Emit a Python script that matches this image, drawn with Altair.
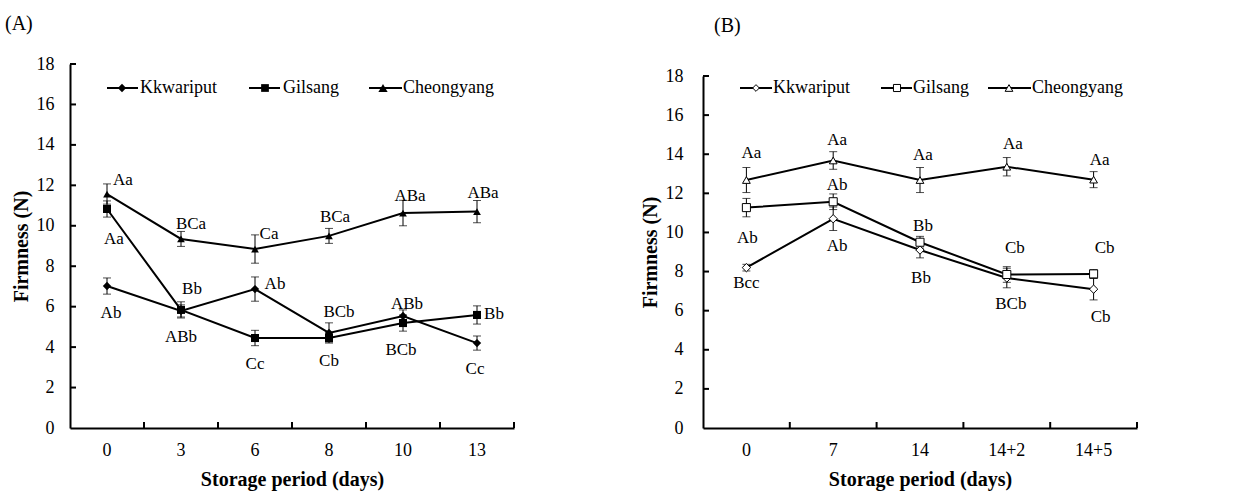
import altair as alt
import pandas as pd

FONT = "Liberation Serif"
series = ["Kkwariput", "Gilsang", "Cheongyang"]
shapes = ["diamond", "square", "triangle-up"]

# ---------- Panel A ----------
a_days = ["0", "3", "6", "8", "10", "13"]
a_kk = [7.02, 5.79, 6.87, 4.70, 5.54, 4.20]
a_kk_err = [0.40, 0.30, 0.60, 0.50, 0.30, 0.35]
a_gs = [10.83, 5.84, 4.45, 4.45, 5.19, 5.59]
a_gs_err = [0.40, 0.40, 0.38, 0.20, 0.40, 0.45]
a_cy = [11.57, 9.35, 8.85, 9.50, 10.63, 10.70]
a_cy_err = [0.50, 0.37, 0.70, 0.37, 0.63, 0.55]

a_lab_text = ["Aa", "Aa", "Ab", "BCa", "Bb", "ABb", "Ca", "Ab", "Cc",
              "BCa", "BCb", "Cb", "ABa", "ABb", "BCb", "ABa", "Bb", "Cc"]
a_lab_day = ["0", "0", "0", "3", "3", "3", "6", "6", "6",
             "8", "8", "8", "10", "10", "10", "13", "13", "13"]
a_lab_y = [12.26, 9.35, 5.69, 10.09, 6.87, 4.50, 9.59, 7.12, 3.17,
           10.43, 5.74, 3.31, 11.47, 6.13, 3.86, 11.62, 5.64, 2.92]
a_lab_dx = [16, 7, 4, 10, 11, 0, 14, 20, 0, 6, 10, 0, 7, 4, -2, 6, 17, -2]

# ---------- Panel B ----------
b_days = ["0", "7", "14", "14+2", "14+5"]
b_kk = [8.20, 10.70, 9.10, 7.67, 7.10]
b_kk_err = [0.17, 0.60, 0.40, 0.50, 0.55]
b_gs = [11.27, 11.57, 9.50, 7.85, 7.88]
b_gs_err = [0.47, 0.40, 0.30, 0.40, 0.22]
b_cy = [12.68, 13.68, 12.68, 13.36, 12.70]
b_cy_err = [0.64, 0.45, 0.64, 0.47, 0.41]

b_lab_text = ["Aa", "Aa", "Aa", "Aa", "Aa", "Ab", "Ab", "Bb", "Cb", "Cb",
              "Ab", "Bcc", "Bb", "BCb", "Cb"]
b_lab_day = ["0", "7", "14", "14+2", "14+5", "7", "0", "14", "14+2", "14+5",
             "7", "0", "14", "14+2", "14+5"]
b_lab_y = [14.06, 14.72, 13.96, 14.52, 13.70, 12.42, 9.71, 10.33, 9.20, 9.20,
           9.30, 7.41, 7.67, 6.34, 5.67]
b_lab_dx = [5, 4, 3, 6, 6, 4, 1, 3, 8, 11, 4, 0, 1, 4, 7]

y_ticks = [2, 4, 6, 8, 10, 12, 14, 16, 18]


def panel(days, vals, errs, lab_text, lab_day, lab_y, lab_dx, filled,
          w, h, ytop, ylab_pad, title, title_dx, title_offset, legend):
    rows = []
    for s, v, e in zip(series, vals, errs):
        for d, vv, ee in zip(days, v, e):
            rows.append(dict(day=d, series=s, value=vv, lo=vv - ee, hi=vv + ee))
    df = pd.DataFrame(rows)
    labs = pd.DataFrame(dict(day=lab_day, text=lab_text, ly=lab_y, dx=lab_dx))
    half_band = w / len(days) / 2

    xaxis = alt.Axis(title="Storage period (days)", ticks=False, grid=False,
                     labelAngle=0, domainColor="black", domainWidth=2,
                     labelFont=FONT, labelFontSize=18, labelColor="black",
                     labelPadding=13, titleFont=FONT, titleFontSize=20,
                     titleFontWeight="bold", titleColor="black", titlePadding=10)
    yaxis = alt.Axis(title="Firmness (N)", ticks=False, grid=False,
                     values=list(range(0, 19, 2)), domainColor="black",
                     domainWidth=2, labelFont=FONT, labelFontSize=18,
                     labelColor="black", labelPadding=ylab_pad, titleFont=FONT,
                     titleFontSize=20, titleFontWeight="bold",
                     titleColor="black", titlePadding=5)
    xscale = alt.Scale(domain=days, paddingInner=0, paddingOuter=0)
    yscale = alt.Scale(domain=[0, 18], nice=False, zero=True, range=[h, ytop])

    def X(**kw):
        return alt.X("day:N", sort=days, scale=xscale, axis=xaxis, **kw)

    def Y(field):
        return alt.Y(f"{field}:Q", scale=yscale, axis=yaxis)

    base = alt.Chart(df)
    shape_enc = alt.Shape("series:N", scale=alt.Scale(domain=series, range=shapes), legend=None)
    sizes = [70, 60, 85] if filled else [45, 50, 60]
    size_enc = alt.Size("series:N", scale=alt.Scale(domain=series, range=sizes), legend=None)

    lines = base.mark_line(color="black", strokeWidth=2).encode(
        x=X(), y=Y("value"), detail="series:N")
    err = base.mark_rule(color="black", strokeWidth=1).encode(
        x=X(), y=Y("lo"), y2="hi:Q")
    cap_lo = base.mark_tick(color="black", thickness=1, size=8).encode(x=X(), y=Y("lo"))
    cap_hi = base.mark_tick(color="black", thickness=1, size=8).encode(x=X(), y=Y("hi"))
    if filled:
        pts = base.mark_point(filled=True, color="black", opacity=1).encode(
            x=X(), y=Y("value"), shape=shape_enc, size=size_enc)
    else:
        pts = base.mark_point(filled=False, fill="white", fillOpacity=1,
                              stroke="black", strokeWidth=1, opacity=1).encode(
            x=X(), y=Y("value"), shape=shape_enc, size=size_enc)
    text = alt.Chart(labs).transform_calculate(
        off=f"datum.dx + {half_band}"
    ).mark_text(font=FONT, fontSize=17, color="black",
                align="center", baseline="middle").encode(
        x=X(), xOffset=alt.XOffset("off:Q", scale=None), y=Y("ly"), text="text:N")

    ytk = alt.Chart(pd.DataFrame(dict(t=y_ticks))).mark_rule(
        color="black", strokeWidth=2).encode(
        y=Y("t"), x=alt.value(0), x2=alt.value(6))
    xtk = alt.Chart(pd.DataFrame(dict(day=days))).mark_rule(
        color="black", strokeWidth=2).encode(
        x=X(bandPosition=1), y=alt.value(h), y2=alt.value(h - 6))

    layers = [ytk, xtk, lines, err, cap_lo, cap_hi, pts, text]

    ly = legend["y"]
    for i, s in enumerate(series):
        x0, x1, xm, xt = legend["items"][i]
        one = alt.Chart(pd.DataFrame(dict(series=[s])))
        layers.append(one.mark_rule(color="black", strokeWidth=2).encode(
            x=alt.value(x0), x2=alt.value(x1), y=alt.value(ly)))
        if filled:
            layers.append(one.mark_point(filled=True, color="black", opacity=1,
                                         shape=shapes[i], size=sizes[i]).encode(
                x=alt.value(xm), y=alt.value(ly)))
        else:
            layers.append(one.mark_point(filled=False, fill="white", fillOpacity=1,
                                         stroke="black", strokeWidth=1, opacity=1,
                                         shape=shapes[i], size=sizes[i]).encode(
                x=alt.value(xm), y=alt.value(ly)))
        layers.append(one.mark_text(font=FONT, fontSize=18, color="black",
                                    align="left", baseline="middle").encode(
            x=alt.value(xt), y=alt.value(ly), text="series:N"))

    return alt.layer(*layers).properties(
        width=w, height=h,
        title=alt.TitleParams(text=title, anchor="start", frame="group",
                              dx=title_dx, offset=title_offset, font=FONT,
                              fontSize=20, fontWeight="normal", color="black"))


legA = dict(y=24, items=[(37, 68, 52, 70), (179, 210, 195, 213), (299, 332, 313, 333)])
legB = dict(y=24, items=[(37, 69, 53, 70), (178, 209, 194, 210), (285, 328, 306, 329)])

A = panel(a_days, [a_kk, a_gs, a_cy], [a_kk_err, a_gs_err, a_cy_err],
          a_lab_text, a_lab_day, a_lab_y, a_lab_dx, True,
          444, 364, 0, 16, "(A)", -65, 21, legA)
B = panel(b_days, [b_kk, b_gs, b_cy], [b_kk_err, b_gs_err, b_cy_err],
          b_lab_text, b_lab_day, b_lab_y, b_lab_dx, False,
          434, 364, 12, 20, "(B)", 11, 28, legB)

chart = alt.hconcat(A, B, spacing=125).properties(
    padding={"left": 5, "top": 14, "right": 5, "bottom": 5}
).configure_view(stroke=None)

chart.save("out.html", embed_options={"renderer": "svg", "actions": False})
